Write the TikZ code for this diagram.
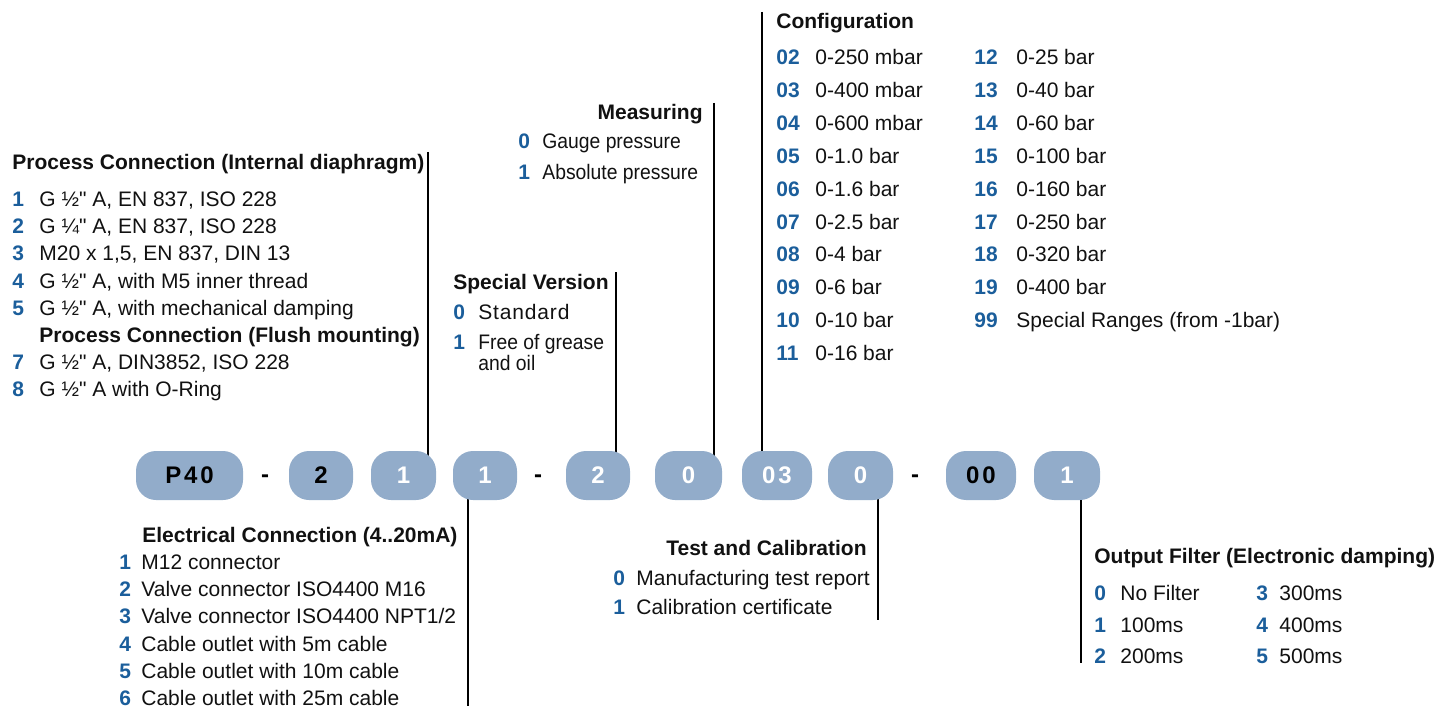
\documentclass[tikz,border=0pt]{standalone}
\usepackage{fontspec}
\setmainfont{Liberation Sans}[Ligatures=TeXOff]
\newfontfamily\pillfamily{Liberation Sans}[LetterSpace=12]
\newfontfamily\narrowfamily{Liberation Sans}[FakeStretch=0.92]
\usetikzlibrary{positioning,backgrounds}
\definecolor{PCBlue}{HTML}{1B5E9B}
\definecolor{PCPill}{HTML}{92ACCA}
\definecolor{PCInk}{HTML}{111111}
\newcommand{\itemsize}{\fontsize{10.5}{12.5}\selectfont}
\tikzset{
  pcitem/.style={anchor=base west,inner sep=0pt,font=\itemsize,text=PCInk},
  pcnarrow/.style={pcitem,font=\narrowfamily\itemsize},
  pccode/.style={pcitem,font=\itemsize\bfseries,text=PCBlue},
  pchead/.style={pcitem,font=\itemsize\bfseries},
  pcheadright/.style={pchead,anchor=base east},
  pcpill/.style={
    rectangle,
    rounded corners=10pt,
    fill=PCPill,
    minimum height=24.5pt,
    inner sep=0pt,
    font=\pillfamily\fontsize{12}{14}\selectfont\bfseries,
    text=white
  },
  pcdark/.style={pcpill,text=black},
  pcdash/.style={anchor=base,inner sep=0pt,font=\fontsize{12}{14}\selectfont\bfseries},
  pclead/.style={line width=1.3pt,draw=black},
}

\begin{document}
\begin{tikzpicture}[x=0.5pt,y=-0.5pt]
  \useasboundingbox (0,0) rectangle (1436,706);

  % order code pills
  \foreach \pillName/\cx/\pillW/\txt/\pillStyle in {
    pA/189.5/53.5/P40/pcdark, pB/321/32/2/pcdark, pC/403.5/32.5/1/pcpill,
    pD/485/32/1/pcpill, pE/598/32/2/pcpill, pF/688.5/33.5/0/pcpill,
    pG/777/35/03/pcpill, pH/860.5/32.5/0/pcpill, pI/981/35/00/pcdark,
    pJ/1067/33/1/pcpill}
    \node[\pillStyle,minimum width=\pillW pt] (\pillName) at (\cx,475.5) {\txt};

  \node[pcdash] (dashA) at (265,482.5) {-};
  \node[pcdash] (dashB) at (538,482.5) {-};
  \node[pcdash] (dashC) at (915,482.5) {-};

  % process connection
  \node[pchead] (pcHead) at (12,169.5) {Process Connection (Internal diaphragm)};
  \foreach \code/\rowY/\txt in {
    1/199/{G ½" A, EN 837, ISO 228}, 2/226/{G ¼" A, EN 837, ISO 228},
    3/253/{M20 x 1,5, EN 837, DIN 13}, 4/281/{G ½" A, with M5 inner thread},
    5/308/{G ½" A, with mechanical damping}, 7/362/{G ½" A, DIN3852, ISO 228},
    8/389/{G ½" A with O-Ring}}{
    \node[pccode] (pcCode\code) at (12,\rowY+7.5) {\code};
    \node[pcitem] (pcItem\code) at (39,\rowY+7.5) {\txt};
  }
  \node[pchead] (pcFlush) at (39,342.5) {Process Connection (Flush mounting)};

  % special version
  \node[pchead] (svHead) at (453,289.5) {Special Version};
  \node[pccode] (svCode0) at (453,319.5) {0};
  \node[pcitem] (svItem0) at (478,319.5) {\addfontfeature{LetterSpace=4}Standard};
  \node[pccode] (svCode1) at (453,349.5) {1};
  \node[pcnarrow] (svItem1) at (478,349.5) {Free of grease};
  \node[pcnarrow] (svItem1b) at (478,370) {and oil};

  % measuring
  \node[pcheadright] (msHead) at (703,119.5) {Measuring};
  \foreach \code/\rowY/\txt in {0/141/Gauge pressure, 1/172/Absolute pressure}{
    \node[pccode] (msCode\code) at (518,\rowY+7.5) {\code};
    \node[pcnarrow] (msItem\code) at (542,\rowY+7.5) {\txt};
  }

  % configuration
  \node[pchead] (cfHead) at (776,28.5) {Configuration};
  \foreach \code/\txt [count=\row from 0] in {
    02/0-250 mbar, 03/0-400 mbar, 04/0-600 mbar, 05/0-1.0 bar, 06/0-1.6 bar,
    07/0-2.5 bar, 08/0-4 bar, 09/0-6 bar, 10/0-10 bar, 11/0-16 bar}{
    \node[pccode] (cfCode\code) at (776,57+\row*32.9+7.5) {\code};
    \node[pcitem] (cfItem\code) at (815,57+\row*32.9+7.5) {\txt};
  }
  \foreach \code/\txt [count=\row from 0] in {
    12/0-25 bar, 13/0-40 bar, 14/0-60 bar, 15/0-100 bar, 16/0-160 bar,
    17/0-250 bar, 18/0-320 bar, 19/0-400 bar, 99/{Special Ranges (from -1bar)}}{
    \node[pccode] (cfCode\code) at (974,57+\row*32.9+7.5) {\code};
    \node[pcitem] (cfItem\code) at (1016,57+\row*32.9+7.5) {\txt};
  }

  % electrical connection
  \node[pchead] (ecHead) at (142,542.5) {Electrical Connection (4..20mA)};
  \foreach \code/\txt [count=\row from 0] in {
    1/M12 connector, 2/Valve connector ISO4400 M16, 3/{Valve connector ISO4400 NPT1/2},
    4/Cable outlet with 5m cable, 5/Cable outlet with 10m cable,
    6/Cable outlet with 25m cable}{
    \node[pccode] (ecCode\code) at (119,562+\row*27.2+7.5) {\code};
    \node[pcitem] (ecItem\code) at (141,562+\row*27.2+7.5) {\txt};
  }

  % test and calibration
  \node[pcheadright] (tcHead) at (867,555.5) {Test and Calibration};
  \foreach \code/\rowY/\txt in {0/578/Manufacturing test report, 1/607/Calibration certificate}{
    \node[pccode] (tcCode\code) at (613,\rowY+7.5) {\code};
    \node[pcitem] (tcItem\code) at (636,\rowY+7.5) {\txt};
  }

  % output filter
  \node[pchead] (ofHead) at (1094,563.5) {Output Filter (Electronic damping)};
  \foreach \code/\txt [count=\row from 0] in {0/No Filter, 1/100ms, 2/200ms}{
    \node[pccode] (ofCode\code) at (1094,593+\row*31.5+7.5) {\code};
    \node[pcitem] (ofItem\code) at (1120,593+\row*31.5+7.5) {\txt};
  }
  \foreach \code/\txt [count=\row from 0] in {3/300ms, 4/400ms, 5/500ms}{
    \node[pccode] (ofCode\code) at (1256,593+\row*31.5+7.5) {\code};
    \node[pcitem] (ofItem\code) at (1279,593+\row*31.5+7.5) {\txt};
  }

  % leader lines
  \coordinate (pcTop) at (428,152);
  \coordinate (svTop) at (616,272);
  \coordinate (msTop) at (714,103);
  \coordinate (cfTop) at (762,12);
  \coordinate (ecEnd) at (468,706);
  \coordinate (tcEnd) at (878,620);
  \coordinate (ofEnd) at (1081,663);
  \begin{scope}[on background layer]
    \draw[pclead] (pcTop) -- (pcTop |- pC.center);
    \draw[pclead] (svTop) -- (svTop |- pE.center);
    \draw[pclead] (msTop) -- (msTop |- pF.center);
    \draw[pclead] (cfTop) -- (cfTop |- pG.center);
    \draw[pclead] (pD.center -| ecEnd) -- (ecEnd);
    \draw[pclead] (pH.center -| tcEnd) -- (tcEnd);
    \draw[pclead] (pJ.center -| ofEnd) -- (ofEnd);
  \end{scope}
\end{tikzpicture}
\end{document}
